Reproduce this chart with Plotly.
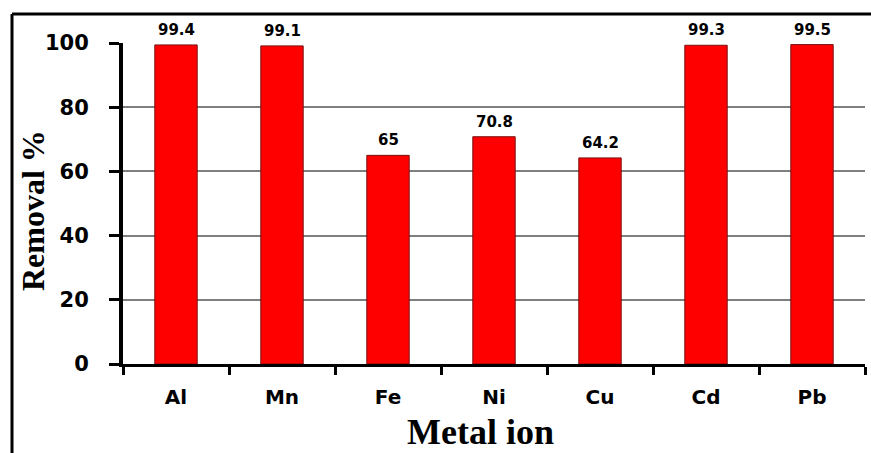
import plotly.graph_objects as go

# Metal ion removal efficiency
metals = ["Al", "Mn", "Fe", "Ni", "Cu", "Cd", "Pb"]
removal = [99.4, 99.1, 65, 70.8, 64.2, 99.3, 99.5]
y_ticks = [0, 20, 40, 60, 80, 100]

W, H = 871, 453
L, R, T, B = 123, 6, 43, 89
PW, PH = W - L - R, H - T - B


def px_x(x):
    return (x - L) / PW


def px_y(y):
    return (H - B - y) / PH


fig = go.Figure(
    go.Bar(
        x=metals,
        y=removal,
        width=0.4,
        marker=dict(color="#FF0000", line=dict(color="#7a1010", width=1)),
        cliponaxis=False,
    )
)

# value labels above each bar
for m, v in zip(metals, removal):
    fig.add_annotation(
        x=m, y=v, xref="x", yref="y",
        text=f"<b>{v:g}</b>",
        showarrow=False,
        yanchor="bottom",
        yshift=4,
        font=dict(family="DejaVu Sans", size=15, color="black"),
    )

fig.update_layout(
    width=W,
    height=H,
    margin=dict(l=L, r=R, t=T, b=B),
    paper_bgcolor="white",
    plot_bgcolor="white",
    showlegend=False,
    bargap=0.6,
)

fig.update_xaxes(
    type="category",
    tickson="boundaries",
    ticks="outside",
    ticklen=8,
    tickwidth=3,
    tickcolor="black",
    ticklabelstandoff=13,
    showline=True,
    linecolor="black",
    linewidth=3,
    showgrid=False,
    tickfont=dict(family="DejaVu Sans", size=20, color="black"),
    tickprefix="<b>",
    ticksuffix="</b>",
)

fig.update_yaxes(
    range=[0, 100],
    tickvals=y_ticks,
    ticktext=[f"<b>{v}</b>" for v in y_ticks],
    ticks="outside",
    ticklen=10,
    tickwidth=3,
    tickcolor="black",
    ticklabelstandoff=16,
    showline=True,
    linecolor="black",
    linewidth=4,
    showgrid=True,
    gridcolor="#7f7f7f",
    gridwidth=1.5,
    zeroline=False,
    tickfont=dict(family="DejaVu Sans", size=21, color="black"),
)

# axis titles
fig.add_annotation(
    x=px_x(480), y=px_y(432), xref="paper", yref="paper",
    xanchor="center", yanchor="middle",
    text="<b>Metal ion</b>", showarrow=False,
    font=dict(family="Liberation Serif", size=36, color="black"),
)
fig.add_annotation(
    x=px_x(33), y=px_y(211), xref="paper", yref="paper",
    xanchor="center", yanchor="middle",
    text="<b>Removal %</b>", showarrow=False, textangle=-90,
    font=dict(family="Liberation Serif", size=32, color="black"),
)

# Outer frame (left and top edges)
fig.add_shape(type="line", xref="paper", yref="paper",
              x0=px_x(12), x1=px_x(12), y0=px_y(H + 2), y1=px_y(14),
              line=dict(color="black", width=3))
fig.add_shape(type="line", xref="paper", yref="paper",
              x0=px_x(12), x1=px_x(W + 5), y0=px_y(14), y1=px_y(14),
              line=dict(color="black", width=3))

fig.write_html("out.html")
